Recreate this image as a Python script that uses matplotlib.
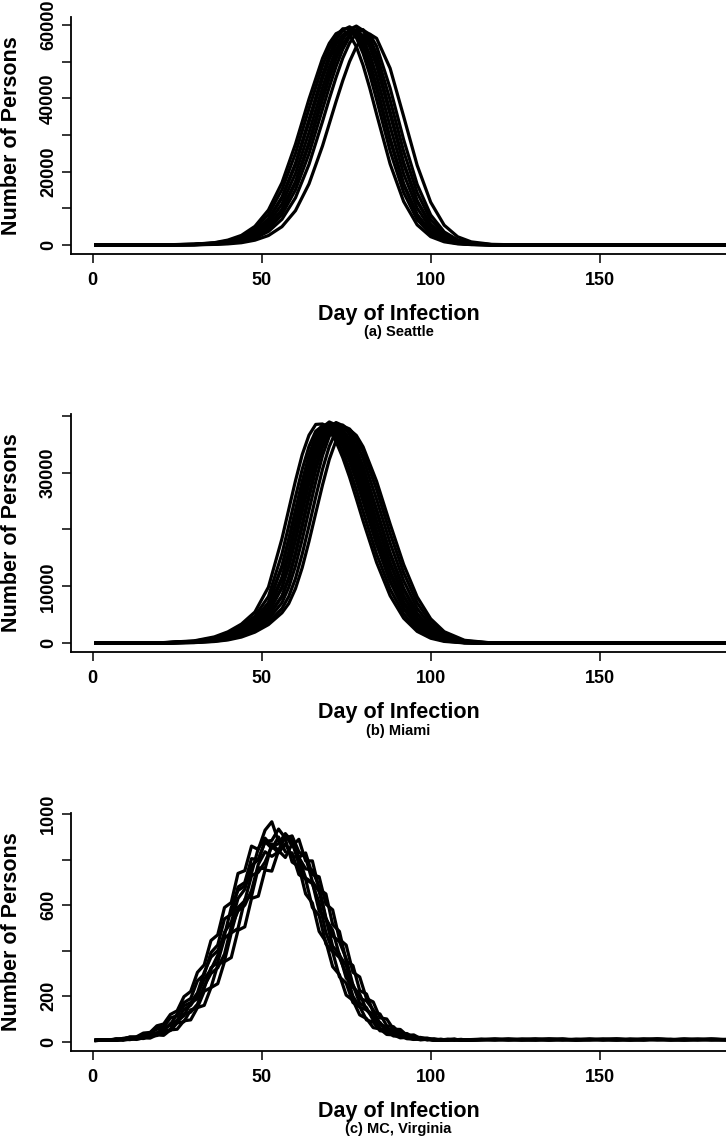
import matplotlib

matplotlib.use("Agg")
import matplotlib.pyplot as plt

W, H = 726, 1138
plt.rcParams["font.family"] = ["Liberation Sans", "DejaVu Sans"]
plt.rcParams["font.weight"] = "bold"

XTICKS = [0, 50, 100, 150]
XLIM = (-6.44, 194.44)

# (a) Seattle - 10 runs
SEATTLE_DAYS = [1, 20, 30, 36, 40, 44, 48, 52, 56, 60, 64, 68, 70, 72, 74, 76,
                78, 80, 82, 84, 88, 92, 96, 100, 104, 108, 112, 118, 126, 140, 187]
SEATTLE_RUNS = [
    [12, 40, 230, 640, 1350, 2630, 5090, 9540, 16970, 27500, 39780, 50900, 54990, 57620, 58500, 57330,
     54110, 49020, 42700, 35690, 22110, 11880, 5500, 2280, 880, 320, 120, 30, 12, 6, 5],
    [12, 36, 207, 562, 1125, 2250, 4440, 8347, 15096, 24982, 37178, 48840, 53576, 57010, 58963, 58904,
     56536, 52274, 46472, 39664, 25634, 14326, 6926, 2960, 1125, 414, 154, 36, 12, 6, 6],
    [12, 29, 175, 466, 931, 1862, 3667, 6984, 12804, 21825, 33465, 45396, 50634, 54708, 57327, 58200,
     57036, 53835, 48772, 42486, 28518, 16412, 8148, 3550, 1397, 524, 192, 47, 12, 6, 6],
    [12, 30, 179, 476, 952, 1904, 3749, 7140, 13090, 22313, 34213, 46410, 51765, 55930, 58608, 59500,
     58310, 55038, 49861, 43435, 29155, 16779, 8330, 3630, 1428, 536, 196, 48, 12, 6, 6],
    [12, 29, 147, 400, 794, 1588, 3175, 6056, 11172, 19522, 30694, 42924, 48510, 53214, 56624, 58565,
     58506, 56154, 51920, 46158, 32340, 19404, 10055, 4528, 1823, 706, 259, 59, 12, 6, 6],
    [12, 24, 119, 328, 657, 1373, 2687, 5194, 9731, 17313, 28059, 40596, 46566, 51939, 56118, 58805,
     59700, 58506, 55223, 50029, 36417, 22567, 12119, 5612, 2328, 896, 328, 72, 12, 6, 6],
    [12, 23, 117, 321, 641, 1341, 2624, 5072, 9503, 16907, 27401, 39644, 45474, 50721, 54802, 57426,
     58300, 57134, 53928, 48855, 35563, 22037, 11835, 5480, 2274, 875, 321, 70, 12, 6, 6],
    [12, 18, 100, 277, 561, 1121, 2242, 4425, 8319, 15045, 24898, 37052, 43070, 48675, 53395, 56817,
     58764, 58705, 56345, 52097, 39530, 25547, 14278, 6903, 2950, 1121, 413, 94, 12, 6, 6],
    [12, 12, 82, 234, 469, 938, 1875, 3692, 7032, 12892, 21975, 33695, 39848, 45708, 50982, 55084,
     57721, 58600, 57428, 54205, 42778, 28714, 16525, 8204, 3575, 1406, 527, 117, 18, 6, 6],
    [12, 12, 58, 173, 316, 633, 1323, 2588, 5003, 9373, 16675, 27025, 33063, 39100, 44850, 50025,
     54050, 56638, 57500, 56350, 48185, 35075, 21735, 11673, 5405, 2243, 863, 190, 29, 12, 6],
]
SEATTLE_YTICKS = [0, 10000, 20000, 30000, 40000, 50000, 60000]
SEATTLE_YLABELS = ["0", "", "20000", "", "40000", "", "60000"]

# (b) Miami - 14 runs
MIAMI_DAYS = [1, 20, 30, 36, 40, 44, 48, 52, 56, 58, 60, 62, 64, 66, 68, 70,
              72, 74, 76, 78, 80, 84, 88, 92, 96, 100, 104, 110, 118, 130, 150, 187]
MIAMI_RUNS = [
    [8, 89, 426, 1122, 2012, 3367, 5495, 9869, 18383, 23491, 28561, 33166, 36572, 38468, 38545, 37500,
     35449, 32624, 29219, 25426, 21517, 14203, 8359, 4412, 2090, 890, 329, 66, 4, 4, 4, 4],
    [8, 76, 363, 955, 1719, 2980, 4775, 8213, 15700, 20628, 25747, 30598, 34609, 37283, 38200, 37665,
     36137, 33692, 30598, 27007, 23187, 15700, 9512, 5157, 2521, 1108, 420, 84, 4, 4, 4, 4],
    [8, 62, 317, 811, 1505, 2663, 4246, 7141, 13626, 18335, 23430, 28487, 33080, 36477, 38368, 38446,
     37403, 35358, 32540, 29143, 25360, 17679, 11040, 6137, 3088, 1390, 540, 116, 8, 4, 4, 4],
    [8, 61, 311, 796, 1478, 2615, 4169, 7012, 13379, 18003, 23006, 27971, 32481, 35816, 37673, 37749,
     36726, 34717, 31950, 28615, 24900, 17358, 10840, 6026, 3032, 1365, 530, 114, 8, 4, 4, 4],
    [8, 51, 272, 700, 1323, 2334, 3773, 6224, 11592, 15988, 21006, 26219, 31159, 35243, 37966, 38900,
     38355, 36799, 34310, 31159, 27502, 19683, 12643, 7235, 3734, 1712, 700, 156, 12, 4, 4, 4],
    [8, 50, 268, 689, 1303, 2298, 3715, 6128, 11413, 15742, 20682, 25815, 30679, 34700, 37381, 38300,
     37764, 36232, 33781, 30679, 27078, 19380, 12448, 7124, 3677, 1686, 689, 154, 12, 4, 4, 4],
    [4, 43, 232, 600, 1122, 2012, 3367, 5495, 9869, 13661, 18383, 23491, 28561, 33166, 36572, 38468,
     38545, 37500, 35449, 32624, 29219, 21517, 14203, 8359, 4412, 2090, 890, 201, 19, 4, 4, 4],
    [4, 42, 228, 591, 1105, 1981, 3315, 5410, 9716, 13449, 18098, 23127, 28118, 32652, 36005, 37872,
     37947, 36919, 34900, 32118, 28766, 21184, 13983, 8230, 4344, 2058, 876, 198, 19, 4, 4, 4],
    [4, 35, 198, 504, 970, 1746, 3026, 4850, 8342, 11562, 15947, 20952, 26151, 31079, 35153, 37869,
     38800, 38257, 36705, 34222, 31079, 23552, 15947, 9661, 5238, 2561, 1125, 260, 23, 4, 4, 4],
    [4, 34, 194, 494, 950, 1710, 2964, 4750, 8170, 11324, 15619, 20520, 25612, 30439, 34429, 37089,
     38000, 37469, 35949, 33517, 30439, 23067, 15619, 9462, 5130, 2508, 1102, 255, 23, 4, 4, 4],
    [4, 31, 169, 424, 809, 1502, 2657, 4235, 7123, 9818, 13591, 18288, 23370, 28413, 32995, 36383,
     38269, 38346, 37307, 35266, 32456, 25295, 17633, 11011, 6122, 3080, 1386, 327, 35, 4, 4, 4],
    [8, 49, 263, 677, 1279, 2256, 3647, 6016, 11205, 15454, 20304, 25343, 30118, 34066, 36698, 37600,
     37074, 35570, 33164, 30118, 26584, 19026, 12221, 6993, 3609, 1655, 677, 151, 12, 4, 4, 4],
    [4, 27, 141, 363, 688, 1299, 2292, 3705, 6112, 8213, 11384, 15700, 20628, 25747, 30598, 34609,
     37283, 38200, 37665, 36137, 33692, 27007, 19329, 12415, 7105, 3667, 1681, 420, 46, 4, 4, 4],
    [4, 23, 117, 309, 584, 1093, 1960, 3280, 5353, 6975, 9614, 13308, 17908, 22884, 27823, 32309,
     35627, 37474, 37549, 36531, 34533, 28464, 20961, 13836, 8143, 4298, 2036, 528, 64, 4, 4, 4],
]
MIAMI_YTICKS = [0, 10000, 20000, 30000, 40000]
MIAMI_YLABELS = ["0", "10000", "", "30000", ""]

# (c) MC, Virginia - 8 runs, every 2nd day to day 111, then every 4th day
VIRGINIA_DAYS = list(range(1, 112, 2)) + list(range(115, 188, 4))
VIRGINIA_MAIN = [
    [5, 7, 6, 12, 12, 21, 22, 38, 41, 70, 78, 120, 136, 198, 221, 305, 338, 445, 470, 590, 612, 740, 752, 860,
     845, 930, 967, 880, 890, 790, 770, 650, 610, 485, 440, 330, 295, 205, 182, 118, 102, 62, 56, 32, 30, 17,
     19, 11, 14, 9, 12, 8, 11, 9, 10, 8],
    [6, 9, 8, 13, 11, 20, 18, 34, 36, 60, 66, 104, 115, 172, 190, 268, 296, 392, 425, 540, 560, 680, 700, 805,
     800, 880, 850, 900, 835, 830, 735, 715, 590, 555, 430, 395, 285, 258, 172, 155, 96, 86, 48, 47, 25, 26,
     13, 15, 8, 11, 7, 10, 8, 11, 7, 9],
    [8, 9, 6, 8, 15, 18, 16, 22, 40, 55, 56, 76, 122, 158, 172, 215, 305, 372, 400, 468, 590, 665, 685, 742,
     850, 895, 860, 870, 915, 880, 780, 715, 695, 612, 480, 400, 370, 300, 200, 152, 140, 108, 60, 42, 42, 32,
     15, 10, 14, 12, 6, 7, 10, 11, 7, 8],
    [6, 8, 9, 7, 12, 11, 19, 17, 33, 36, 48, 80, 88, 115, 170, 190, 235, 325, 350, 455, 480, 590, 620, 730,
     745, 790, 860, 830, 870, 815, 810, 720, 700, 575, 540, 420, 385, 280, 250, 170, 150, 95, 85, 48, 46, 24,
     25, 12, 14, 8, 10, 6, 9, 8, 10, 7],
    [6, 9, 7, 11, 10, 12, 20, 19, 34, 37, 60, 72, 95, 142, 160, 205, 275, 318, 380, 482, 525, 630, 670, 775,
     800, 880, 885, 935, 895, 905, 835, 810, 705, 660, 540, 490, 380, 335, 240, 210, 140, 120, 76, 64, 38, 34,
     19, 18, 10, 12, 7, 9, 6, 10, 8, 9],
    [8, 8, 6, 6, 12, 14, 13, 16, 30, 40, 40, 55, 92, 120, 130, 165, 245, 300, 325, 385, 505, 575, 600, 665,
     780, 835, 815, 835, 905, 890, 810, 760, 755, 680, 545, 465, 440, 365, 250, 190, 180, 140, 78, 56, 55, 44,
     20, 14, 17, 14, 7, 6, 9, 10, 6, 8],
    [5, 8, 9, 6, 11, 9, 16, 14, 26, 27, 46, 49, 82, 88, 140, 150, 222, 238, 338, 355, 478, 498, 625, 640,
     765, 760, 870, 840, 910, 860, 890, 795, 795, 670, 650, 515, 485, 355, 335, 225, 210, 130, 122, 70, 66, 35,
     36, 18, 19, 10, 12, 7, 9, 6, 9, 8],
    [7, 6, 8, 8, 6, 12, 10, 17, 16, 30, 28, 52, 55, 92, 96, 150, 160, 238, 255, 352, 370, 490, 505, 630,
     640, 755, 750, 840, 810, 870, 810, 830, 735, 725, 605, 580, 450, 425, 305, 285, 190, 175, 105, 100, 55, 54,
     28, 30, 14, 16, 9, 11, 7, 9, 8, 6],
]
VIRGINIA_TAIL = [
    [9, 11, 8, 10, 12, 9, 8, 11, 10, 9, 12, 8, 10, 11, 9, 10, 8, 11, 9],
    [10, 8, 11, 9, 7, 10, 12, 8, 9, 11, 8, 10, 9, 12, 8, 9, 11, 8, 10],
    [9, 12, 10, 7, 9, 11, 10, 8, 12, 9, 7, 10, 11, 9, 8, 12, 10, 9, 8],
    [8, 10, 9, 12, 8, 9, 11, 7, 10, 9, 12, 8, 10, 9, 11, 8, 10, 12, 9],
    [11, 9, 8, 10, 12, 7, 9, 10, 8, 11, 9, 12, 7, 10, 9, 8, 11, 10, 9],
    [10, 8, 12, 9, 10, 7, 11, 9, 8, 10, 12, 9, 8, 11, 10, 7, 9, 11, 10],
    [9, 11, 8, 10, 9, 12, 8, 10, 11, 7, 9, 10, 12, 8, 9, 11, 10, 8, 9],
    [10, 9, 11, 8, 10, 12, 9, 8, 10, 11, 9, 7, 10, 12, 9, 11, 8, 10, 9],
]
VIRGINIA_RUNS = [m + t for m, t in zip(VIRGINIA_MAIN, VIRGINIA_TAIL)]
VIRGINIA_YTICKS = [0, 200, 400, 600, 800, 1000]
VIRGINIA_YLABELS = ["0", "200", "", "600", "", "1000"]

# days, runs, ylim, yticks, ytick labels, subtitle, top px, bottom px
PANELS = [
    (SEATTLE_DAYS, SEATTLE_RUNS, (-2390, 62090), SEATTLE_YTICKS, SEATTLE_YLABELS, "(a) Seattle", 17.3, 253.8),
    (MIAMI_DAYS, MIAMI_RUNS, (-1550, 40350), MIAMI_YTICKS, MIAMI_YLABELS, "(b) Miami", 413.7, 652.1),
    (VIRGINIA_DAYS, VIRGINIA_RUNS, (-39, 1006), VIRGINIA_YTICKS, VIRGINIA_YLABELS, "(c) MC, Virginia", 812.9, 1050.6),
]

fig = plt.figure(figsize=(W / 100, H / 100), dpi=100)

for days, runs, ylim, yticks, ylabels, subtitle, top, bottom in PANELS:
    ax = fig.add_axes([70.9 / W, 1 - bottom / H, 679 / W, (bottom - top) / H])
    for run in runs:
        ax.plot(days, run, color="black", lw=2.3)
    ax.set_xlim(*XLIM)
    ax.set_ylim(*ylim)
    ax.set_xticks(XTICKS, [str(t) for t in XTICKS])
    ax.set_yticks(yticks, ylabels)
    for lbl in ax.get_yticklabels():
        lbl.set_rotation(90)
        lbl.set_verticalalignment("center")
    ax.tick_params(axis="both", direction="out", length=6.5, width=1.1, labelsize=13)
    ax.tick_params(axis="x", pad=6.5)
    ax.tick_params(axis="y", pad=3.5)
    for side in ("top", "right"):
        ax.spines[side].set_visible(False)
    for side in ("left", "bottom"):
        ax.spines[side].set_linewidth(1.3)

    mid = (top + bottom) / 2
    fig.text(16.7 / W, 1 - mid / H, "Number of Persons", rotation=90, rotation_mode="anchor",
             ha="center", va="baseline", fontsize=15.5, fontweight="bold")
    fig.text(398.5 / W, 1 - (bottom + 66) / H, "Day of Infection",
             ha="center", va="baseline", fontsize=15.5, fontweight="bold")
    fig.text(398.5 / W, 1 - (bottom + 82.5) / H, subtitle,
             ha="center", va="baseline", fontsize=10.5, fontweight="bold")

fig.savefig("out.png", dpi=100)
plt.close(fig)
